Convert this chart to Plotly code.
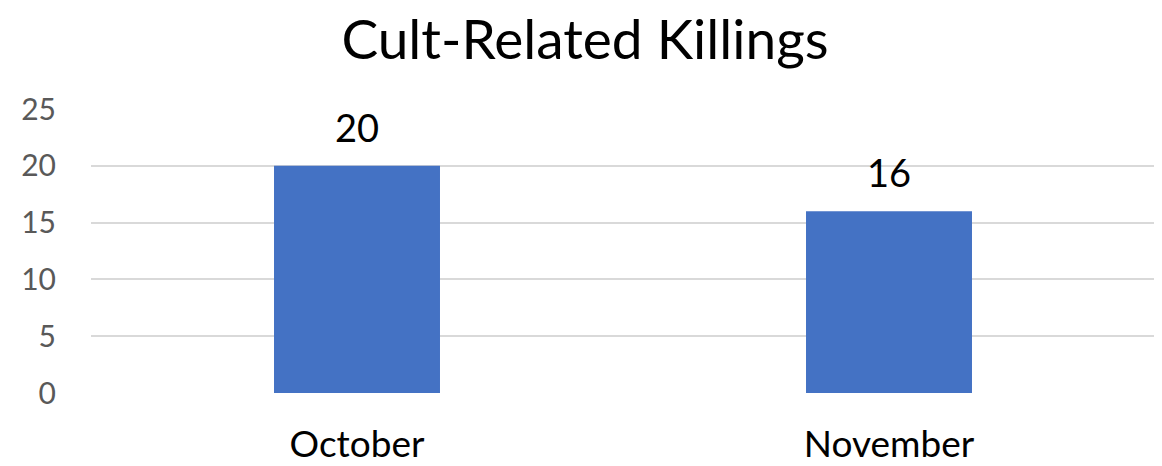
import plotly.graph_objects as go

categories = ["October", "November"]
values = [20, 16]
y_ticks = [0, 5, 10, 15, 20, 25]

FONT = "Lato, Open Sans, sans-serif"

fig = go.Figure()
fig.add_trace(go.Bar(
    x=categories, y=values,
    marker=dict(color="#4472C4", line=dict(width=0)),
    width=0.312,
))

for c, v in zip(categories, values):
    fig.add_annotation(x=c, y=v, text=str(v), showarrow=False,
                       yanchor="bottom", yshift=14,
                       font=dict(family=FONT, size=38, color="#000000"))

# page body has an 8px default margin, so the figure is shrunk by that amount
fig.update_layout(
    width=1154, height=458,
    margin=dict(l=83, r=7, t=101, b=73, autoexpand=False),
    paper_bgcolor="white", plot_bgcolor="white",
    showlegend=False,
    title=dict(text="Cult-Related Killings", x=0.5, xanchor="center",
               y=0.93, yanchor="middle",
               font=dict(family=FONT, size=55, color="#000000")),
)
fig.update_xaxes(
    showgrid=False, showline=False, zeroline=False, automargin=False,
    tickfont=dict(family=FONT, size=37, color="#000000"),
    ticks="", ticklabelstandoff=26,
)
fig.update_yaxes(
    range=[0, 25], tickvals=y_ticks, automargin=False,
    showgrid=True, gridcolor="#D9D9D9", gridwidth=2,
    zeroline=False, showline=False,
    tickfont=dict(family=FONT, size=30, color="#595959"),
    ticks="", ticklabelstandoff=34,
)

fig.write_html("out.html")
